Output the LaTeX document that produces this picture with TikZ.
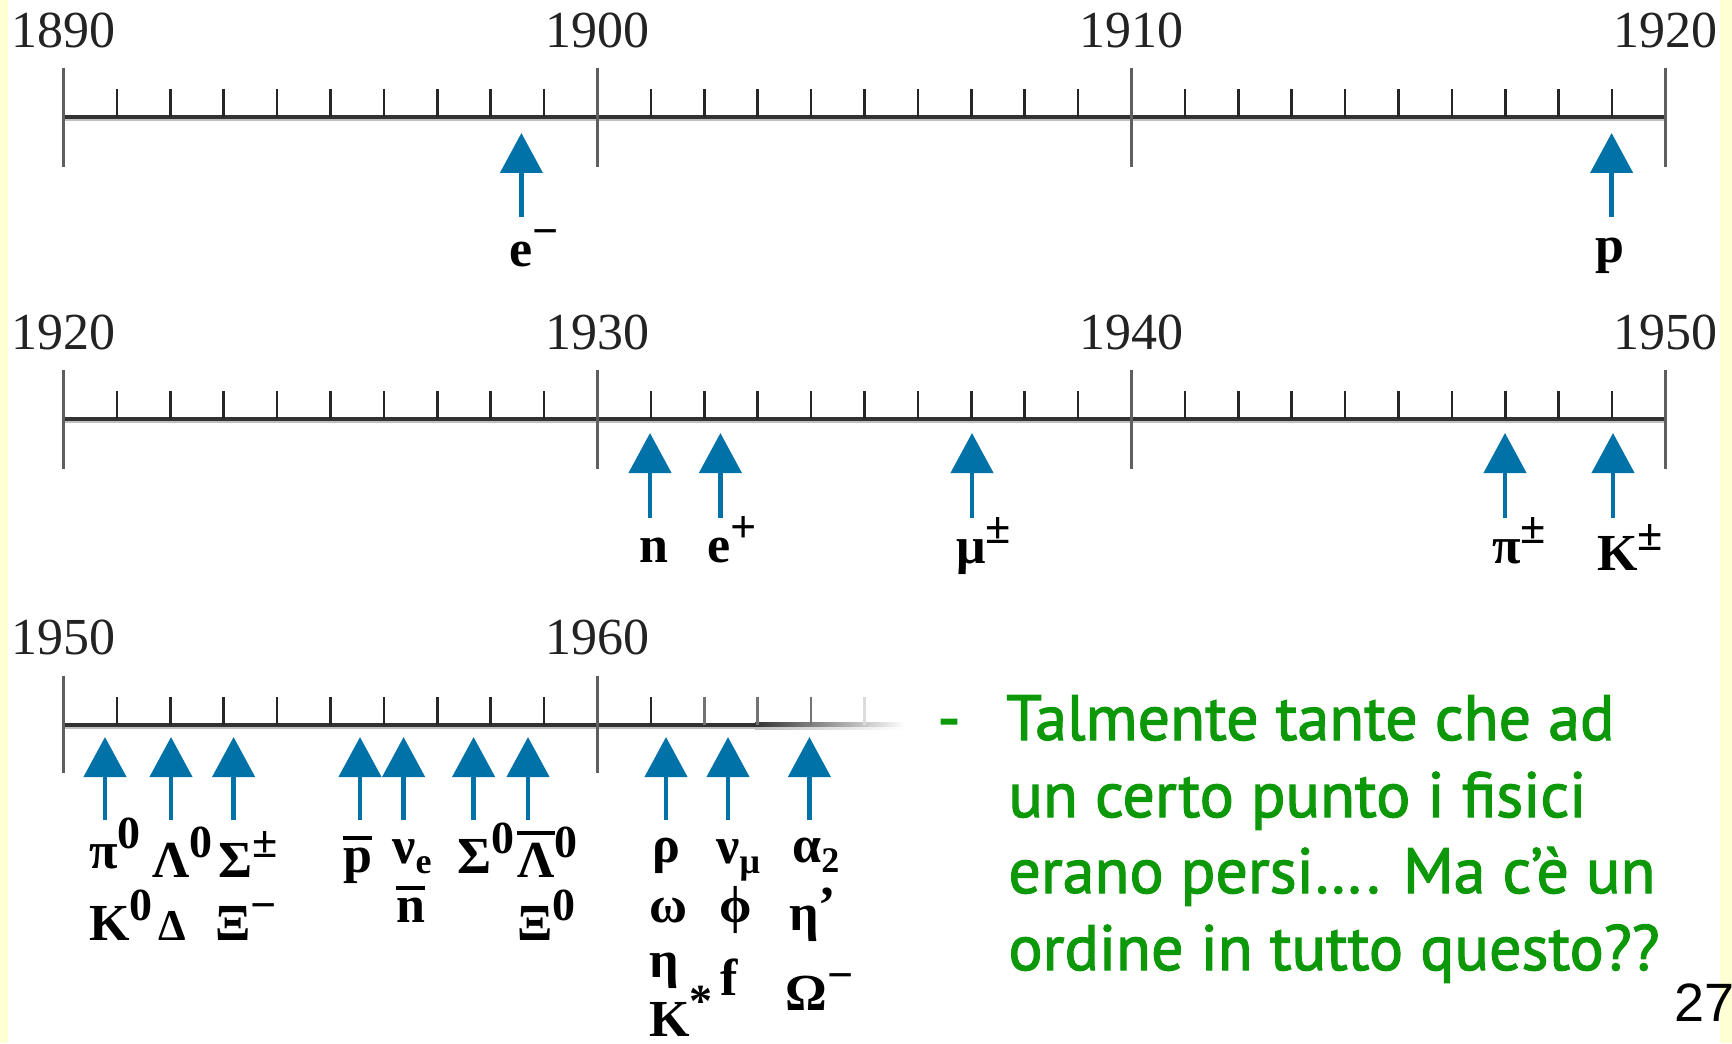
\documentclass[tikz,border=0pt]{standalone}
\usepackage{fontspec}
\setmainfont{Liberation Serif}
\newfontfamily\gfont[FakeBold=1.8]{PT Sans}
\newfontfamily\nfont{Liberation Sans}
\usetikzlibrary{arrows.meta}
\definecolor{arrblue}{RGB}{0,114,168}
\definecolor{gtext}{RGB}{12,152,8}
\definecolor{side}{RGB}{255,255,212}
\definecolor{axcol}{RGB}{50,50,50}
\definecolor{majcol}{RGB}{95,95,95}
\definecolor{yearcol}{RGB}{35,35,35}
\newcommand\Lsup[1]{\raisebox{10pt}{\fontsize{23}{23}\selectfont #1}}
\newcommand\Lsub[1]{\raisebox{-5pt}{\fontsize{18}{18}\selectfont #1}}
\newcommand\Obar[1]{\vbox{\hrule height 2pt\kern 4pt\hbox{#1}}}
\tikzset{
  axisline/.style={line width=2.2pt, draw=axcol},
  axisshade/.style={line width=1.1pt, draw=black!25},
  majtick/.style={line width=1.6pt, draw=majcol},
  mintick/.style={line width=1.3pt, draw=black!85},
  year/.style={font=\fontsize{26}{26}\selectfont, text=yearcol, inner sep=0pt},
  lab/.style={font=\bfseries\fontsize{26}{26}\selectfont, inner sep=0pt, anchor=base west},
  arr/.style={draw=arrblue, line width=2.2pt, -{Triangle[length=20pt,width=21pt]}},
  gline/.style={font=\gfont\fontsize{32}{32}\selectfont, text=gtext, inner sep=0pt, anchor=base west},
}
\begin{document}
\begin{tikzpicture}[x=0.5pt,y=-0.5pt]
\useasboundingbox (0,0) rectangle (1732,1043);
\clip (0,0) rectangle (1732,1043);
\fill[white] (0,0) rectangle (1732,1043);
\fill[side] (0,0) rectangle (8,1043);
\fill[side] (1720,0) rectangle (1732,1043);

% rows 1 and 2
\foreach \A in {117,419}{
  \draw[axisshade] (63.4,{\A+3.3}) -- (1665.4,{\A+3.3});
  \draw[axisline] (63.4,\A) -- (1665.4,\A);
  \foreach \k in {1,...,9,11,12,...,19,21,22,...,29}
    \draw[mintick] ({63.4+\k*53.4},{\A-28}) -- ({63.4+\k*53.4},\A);
  \foreach \k in {0,10,20,30}
    \draw[majtick] ({63.4+\k*53.4},{\A-49}) -- ({63.4+\k*53.4},{\A+50});
}
% row 3
\draw[axisshade] (63.4,728.3) -- (755,728.3);
\draw[axisline] (63.4,725) -- (755,725);
\shade[left color=axcol, right color=white] (755,722.8) rectangle (905,727.2);
\shade[left color=black!25, right color=white] (755,727.7) rectangle (905,729);
\foreach \k in {1,...,9,11}
  \draw[mintick] ({63.4+\k*53.4},697) -- ({63.4+\k*53.4},725);
\foreach \k in {12,13,14}
  \draw[mintick, draw=black!55] ({63.4+\k*53.4},697) -- ({63.4+\k*53.4},725);
\draw[mintick, draw=black!14] ({63.4+15*53.4},697) -- ({63.4+15*53.4},725);
\foreach \k in {0,10}
  \draw[majtick] ({63.4+\k*53.4},676) -- ({63.4+\k*53.4},773);

% year labels
\node[year] (y1890) at (63.4,30.5) {1890};
\node[year] (y1900) at (597.4,30.5) {1900};
\node[year] (y1910) at (1131.4,30.5) {1910};
\node[year] (y1920a) at (1665.4,30.5) {1920};
\node[year] (y1920b) at (63.4,332) {1920};
\node[year] (y1930) at (597.4,332) {1930};
\node[year] (y1940) at (1131.4,332) {1940};
\node[year] (y1950a) at (1665.4,332) {1950};
\node[year] (y1950b) at (63.4,637.5) {1950};
\node[year] (y1960) at (597.4,637.5) {1960};

% arrows
\foreach \x in {521.4,1611.6}
  \draw[arr] (\x,217) -- (\x,133);
\foreach \x in {650,720.4,972,1505,1613}
  \draw[arr] (\x,518) -- (\x,433);
\foreach \x in {105,171,233.6,360,403.6,473.6,528,666,728,809.4}
  \draw[arr] (\x,820) -- (\x,737);

% labels row 1
\node[lab] (le) at (509,266) {e\Lsup{−}};
\node[lab] (lp) at (1595,263) {p};
% labels row 2
\node[lab] (ln) at (639,562) {n};
\node[lab] (lep) at (707,562) {e\Lsup{+}};
\node[lab] (lmu) at (956,563) {μ\Lsup{±}};
\node[lab] (lpi) at (1492,563) {π\Lsup{±}};
\node[lab] (lK) at (1597,570) {K\Lsup{±}};
% labels row 3
\node[lab] (l1) at (89,868) {π\Lsup{0}};
\node[lab] (l2) at (152,877) {Λ\Lsup{0}};
\node[lab] (l3) at (218,877) {Σ\Lsup{±}};
\node[lab] (l4) at (343,872) {\Obar{p}};
\node[lab] (l5) at (392,863) {ν\Lsub{e}};
\node[lab] (l6) at (457,873) {Σ\Lsup{0}};
\node[lab] (l7) at (517,877) {\Obar{Λ}\Lsup{0}};
\node[lab] (l8) at (652,862) {ρ};
\node[lab] (l9) at (716,863) {ν\Lsub{μ}};
\node[lab] (l10) at (792,862) {α\Lsub{2}};
\node[lab] (l11) at (89,940) {K\Lsup{0}};
\node[lab, font=\bfseries\fontsize{22}{22}\selectfont] (l12) at (158,940) {Δ};
\node[lab] (l13) at (215,940) {Ξ\Lsup{−}};
\node[lab] (l14) at (396,922) {\Obar{n}};
\node[lab] (l15) at (517,940) {Ξ\Lsup{0}};
\node[lab] (l16) at (649,922) {ω};
\node[lab] (l17) at (719,922) {ϕ};
\node[lab] (l18) at (789,930) {η\raisebox{4pt}{'}};
\node[lab] (l19) at (649,977) {η};
\node[lab] (l20) at (720,995) {f};
\node[lab] (l21) at (785,1010) {Ω\Lsup{−}};
\node[lab] (l22) at (649,1036) {K\Lsup{*}};

% green text
\node[gline] (gd) at (937,740) {-};
\node[gline] (g1) at (1006,740) {Talmente tante che ad};
\node[gline] (g2) at (1008,817) {un certo punto i fisici};
\node[gline] (g3) at (1008,893) {erano persi…. Ma c’è un};
\node[gline] (g4) at (1008,970) {ordine in tutto questo??};
\node[font=\nfont\fontsize{27}{27}\selectfont, anchor=base west, inner sep=0pt] (pg) at (1674,1021) {27};
\end{tikzpicture}
\end{document}
